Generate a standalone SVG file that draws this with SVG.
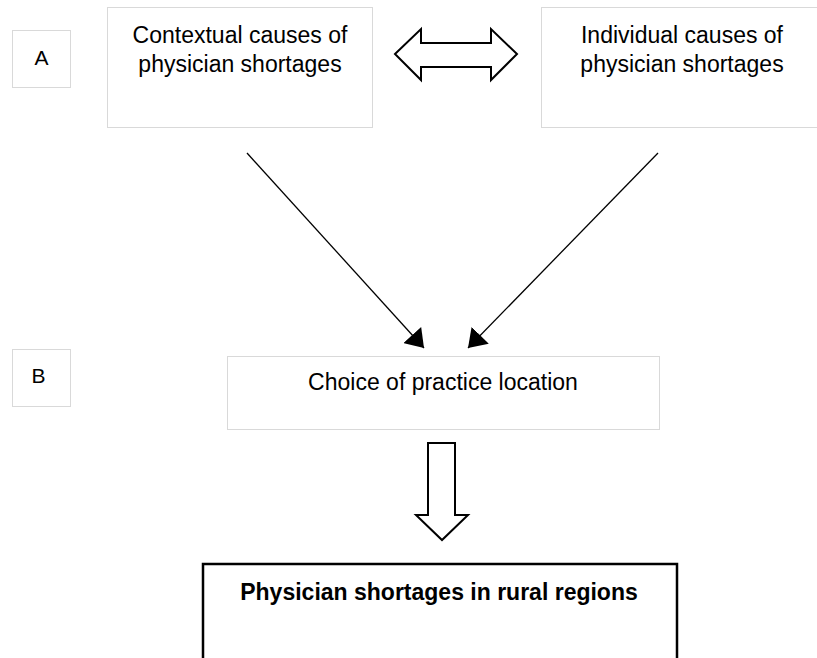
<svg xmlns="http://www.w3.org/2000/svg" width="817" height="658" viewBox="0 0 817 658">
<style>
.box{fill:#fff;stroke:#d9d9d9;stroke-width:1}
.bold{fill:#fff;stroke:#000;stroke-width:2.5}
.t{font-family:"Liberation Sans",Arial,sans-serif;font-size:23px;fill:#000;text-anchor:middle}
.tb{font-family:"Liberation Sans",Arial,sans-serif;font-size:23px;font-weight:bold;fill:#000;text-anchor:middle}
.lbl{font-family:"Liberation Sans",Arial,sans-serif;font-size:21px;fill:#000;text-anchor:middle}
.blk{fill:#fff;stroke:#000;stroke-width:2;stroke-linejoin:miter}
.ln{stroke:#000;stroke-width:1.3;fill:none}
</style>
<defs>
<marker id="ah" markerUnits="userSpaceOnUse" markerWidth="18" markerHeight="24" refX="16" refY="11" orient="auto" viewBox="0 0 16 22">
<path d="M0,0 L16,11 L0,22 z" fill="#000"/>
</marker>
</defs>
<rect width="817" height="658" fill="#fff"/>
<g id="labelA">
<rect class="box" x="12.5" y="30.5" width="58" height="57"/>
<text class="lbl" x="41.5" y="65">A</text>
</g>
<g id="labelB">
<rect class="box" x="12.5" y="349.5" width="58" height="57"/>
<text class="lbl" x="38.5" y="383">B</text>
</g>
<g id="contextual">
<rect class="box" x="107.5" y="7.5" width="265" height="120"/>
<text class="t" x="240" y="43">Contextual causes of</text>
<text class="t" x="240" y="72">physician shortages</text>
</g>
<g id="individual">
<rect class="box" x="541.5" y="7.5" width="290" height="120"/>
<text class="t" x="682" y="43">Individual causes of</text>
<text class="t" x="682" y="72">physician shortages</text>
</g>
<g id="choice">
<rect class="box" x="227.5" y="356.5" width="432" height="73"/>
<text class="t" x="443" y="390">Choice of practice location</text>
</g>
<g id="shortages">
<rect class="bold" x="203" y="564" width="474" height="110"/>
<text class="tb" x="439" y="600">Physician shortages in rural regions</text>
</g>
<g id="connectors">
<polygon class="blk" points="395,54 421,29 421,43 491,43 491,29 517,54 491,80 491,67 421,67 421,80"/>
<line class="ln" x1="247" y1="153" x2="424" y2="348" marker-end="url(#ah)"/>
<line class="ln" x1="658" y1="153" x2="468" y2="348" marker-end="url(#ah)"/>
<polygon class="blk" points="428,443 455,443 455,515 468,515 442,540 416,515 428,515"/>
</g>
</svg>
